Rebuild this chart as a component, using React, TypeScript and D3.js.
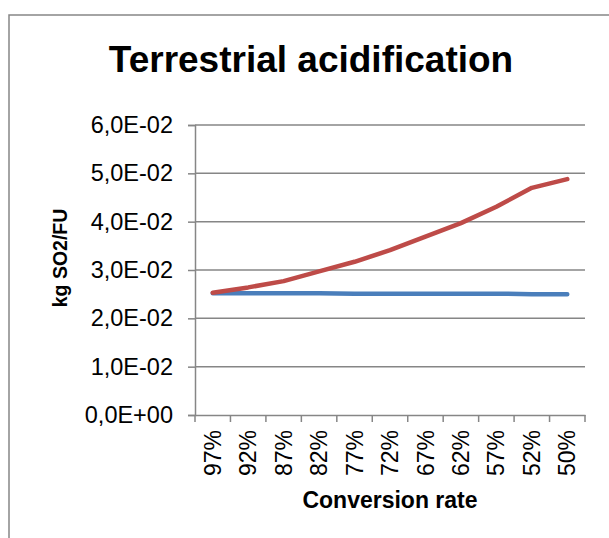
import React, { useEffect, useRef } from "react";
import * as d3 from "d3";

const categories: string[] = ["97%", "92%", "87%", "82%", "77%", "72%", "67%", "62%", "57%", "52%", "50%"];
const blueValues: number[] = [0.0252, 0.0252, 0.0252, 0.0252, 0.0251, 0.0251, 0.0251, 0.0251, 0.0251, 0.025, 0.025];
const redValues: number[] = [0.0253, 0.0264, 0.0277, 0.0297, 0.0317, 0.0341, 0.0369, 0.0397, 0.0431, 0.047, 0.0488];
const yTicks: number[] = [0, 0.01, 0.02, 0.03, 0.04, 0.05, 0.06];

const fmt = (v: number) => {
  if (v === 0) return "0,0E+00";
  const e = Math.floor(Math.log10(v));
  const m = v / Math.pow(10, e);
  const sign = e < 0 ? "-" : "+";
  return m.toFixed(1).replace(".", ",") + "E" + sign + String(Math.abs(e)).padStart(2, "0");
};

const App = () => {
  const ref = useRef<any>(null);
  const width = 609;
  const height = 538;

  useEffect(() => {
    const svg = d3.select(ref.current);
    svg.selectAll("*").remove();
    const font = "'Liberation Sans', Arial, sans-serif";
    const grey = "#868686";

    const x = d3.scaleBand().domain(categories).range([195, 585]);
    const y = d3.scaleLinear().domain([0, 0.06]).range([415, 125]);

    // outer frame (cropped on right / bottom)
    svg
      .append("rect")
      .attr("x", 9)
      .attr("y", 15)
      .attr("width", 700)
      .attr("height", 700)
      .attr("fill", "white")
      .attr("stroke", grey)
      .attr("stroke-width", 1.5);

    // title
    svg
      .append("text")
      .attr("x", 311)
      .attr("y", 72)
      .attr("text-anchor", "middle")
      .style("font-family", font)
      .style("font-weight", "bold")
      .style("font-size", "37px")
      .text("Terrestrial acidification");

    // gridlines
    svg
      .selectAll(".grid")
      .data(yTicks.slice(1))
      .enter()
      .append("line")
      .attr("x1", 195)
      .attr("x2", 585)
      .attr("y1", (d) => y(d))
      .attr("y2", (d) => y(d))
      .attr("stroke", grey)
      .attr("stroke-width", 1.5);

    // y axis
    const yAxis = svg.append("g").attr("transform", "translate(195,0)").call(
      d3.axisLeft(y).tickValues(yTicks).tickSize(7).tickPadding(15).tickFormat((d: any) => fmt(d))
    );
    yAxis.select(".domain").attr("stroke", grey).attr("stroke-width", 1.5);
    yAxis.selectAll(".tick line").attr("stroke", grey).attr("stroke-width", 1.5);
    yAxis
      .selectAll(".tick text")
      .attr("fill", "black")
      .style("font-family", font)
      .style("font-size", "23.5px");

    // x axis
    const xAxis = svg
      .append("g")
      .attr("transform", "translate(0,415)")
      .call(d3.axisBottom(x).tickSize(0).tickSizeOuter(0));
    xAxis.select(".domain").attr("stroke", grey).attr("stroke-width", 1.5);
    xAxis.selectAll(".tick line").remove();
    xAxis
      .selectAll(".tick text")
      .attr("fill", "black")
      .attr("transform", "rotate(-90)")
      .attr("text-anchor", "end")
      .attr("x", -15)
      .attr("y", 0)
      .attr("dy", "0.35em")
      .style("font-family", font)
      .style("font-size", "23px");

    // category boundary ticks
    const bounds = categories.map((c) => x(c) as number).concat([585]);
    svg
      .selectAll(".xtick")
      .data(bounds)
      .enter()
      .append("line")
      .attr("x1", (d) => d)
      .attr("x2", (d) => d)
      .attr("y1", 415)
      .attr("y2", 422)
      .attr("stroke", grey)
      .attr("stroke-width", 1.5);

    // axis titles
    svg
      .append("text")
      .attr("x", 390)
      .attr("y", 508)
      .attr("text-anchor", "middle")
      .style("font-family", font)
      .style("font-weight", "bold")
      .style("font-size", "23px")
      .text("Conversion rate");

    svg
      .append("text")
      .attr("transform", "translate(67,258) rotate(-90)")
      .attr("text-anchor", "middle")
      .style("font-family", font)
      .style("font-weight", "bold")
      .style("font-size", "19.5px")
      .text("kg SO2/FU");

    const cx = (i: number) => (x(categories[i]) as number) + x.bandwidth() / 2;
    const line = d3
      .line<number>()
      .x((d, i) => cx(i))
      .y((d) => y(d));

    svg
      .append("path")
      .datum(blueValues)
      .attr("d", line)
      .attr("fill", "none")
      .attr("stroke", "#4a7ebb")
      .attr("stroke-width", 4.5)
      .attr("stroke-linecap", "round")
      .attr("stroke-linejoin", "round");

    svg
      .append("path")
      .datum(redValues)
      .attr("d", line)
      .attr("fill", "none")
      .attr("stroke", "#be4b48")
      .attr("stroke-width", 4.5)
      .attr("stroke-linecap", "round")
      .attr("stroke-linejoin", "round");
  }, []);

  return (
    <svg
      ref={ref}
      width={width}
      height={height}
      style={{ position: "absolute", left: 0, top: 0, background: "white" }}
    ></svg>
  );
};

export default App;
